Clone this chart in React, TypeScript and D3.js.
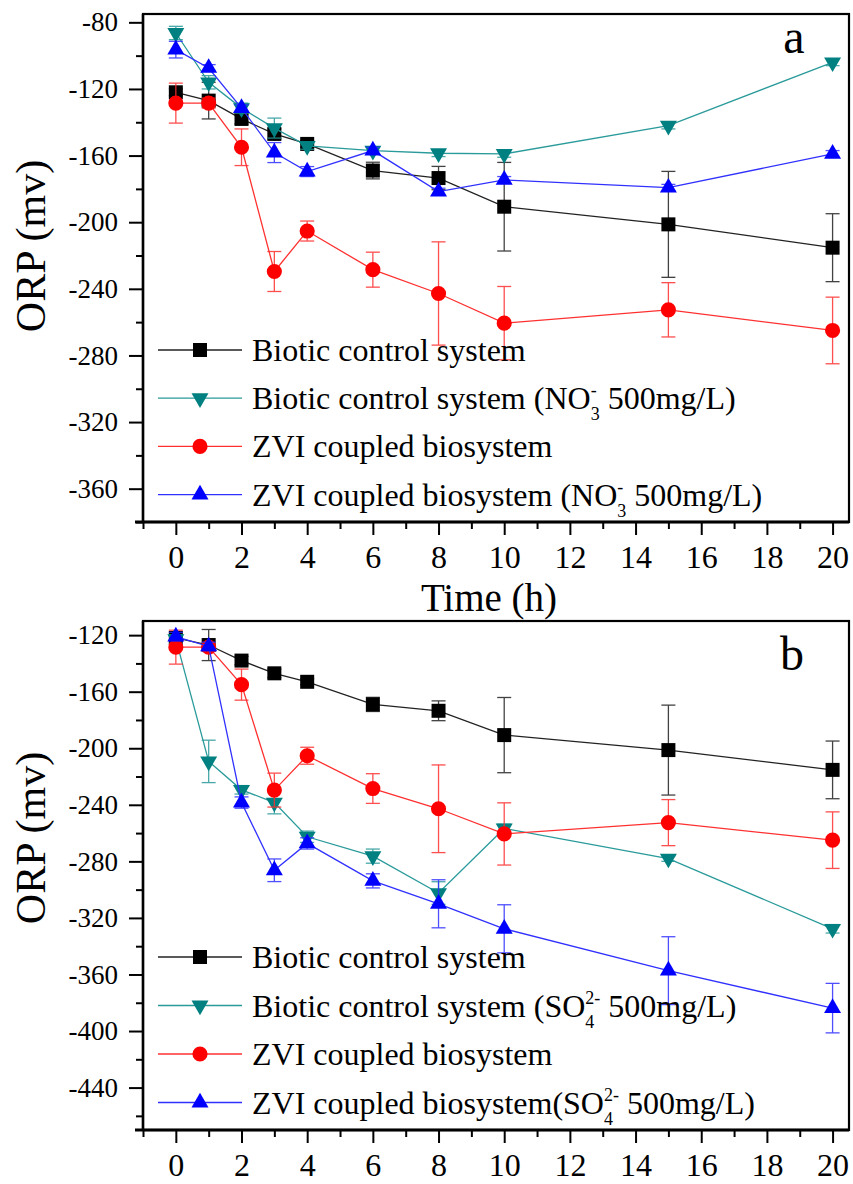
import React, { useRef, useEffect } from "react";
import * as d3 from "d3";

// sampling times (h)
const times = [0, 1, 2, 3, 4, 6, 8, 10, 15, 20];

// ORP (mV)
const bioticCtrl = [-122, -127, -138, -147, -153, -169, -173.5, -190.7, -201.3, -215.3];
const bioticCtrlErr = [2, 11, 3, 3, 2, 5, 7, 26.6, 31.8, 20.4];
const zviCoupled = [-128.5, -128.5, -155, -229.6, -205.3, -228.5, -242.8, -260.6, -252.6, -265];
const zviCoupledErr = [12, 3, 11, 12, 6, 10.5, 31, 22, 16.3, 20];
const bioticNO3 = [-86.4, -116, -131.5, -143.5, -154.2, -157, -158.6, -159, -142, -104];
const bioticNO3Err = [4, 4, 3, 6, 2, 2, 2, 2, 2, 2];
const zviNO3 = [-96.4, -107.4, -131.5, -158.2, -169.6, -157, -181.6, -174.6, -179.3, -159];
const zviNO3Err = [5, 2, 2, 6, 3, 2, 2, 2, 2, 2];
const bioticSO4 = [-122.8, -209.3, -229.4, -238.4, -262.6, -276.3, -302.4, -256.7, -278, -327.7];
const bioticSO4Err = [3, 15, 3, 8, 4, 5, 8, 3, 2, 3];
const zviSO4 = [-121, -128, -238.4, -286.3, -267.3, -293.8, -310, -327.7, -357.3, -383.8];
const zviSO4Err = [3, 3, 4, 8, 4, 5, 17, 17, 24, 17.5];

// tick values
const xMajorTicks = [0, 2, 4, 6, 8, 10, 12, 14, 16, 18, 20];
const xMinorTicks = [-1, 1, 3, 5, 7, 9, 11, 13, 15, 17, 19];
const yMajorA = [-80, -120, -160, -200, -240, -280, -320, -360];
const yMinorA = [-100, -140, -180, -220, -260, -300, -340, -380];
const yMajorB = [-120, -160, -200, -240, -280, -320, -360, -400, -440];
const yMinorB = [-140, -180, -220, -260, -300, -340, -380, -420, -460];

const FONT = "'Liberation Serif', 'Times New Roman', Times, serif";

const styles = {
  black: { line: "#222", fill: "#000", shape: "square" },
  teal: { line: "#2a9a9a", fill: "#008080", shape: "down" },
  red: { line: "#ff3030", fill: "#ff0000", shape: "circle" },
  blue: { line: "#3030ff", fill: "#0000ff", shape: "up" },
};

const xScale = d3.scaleLinear().domain([-1, 20.5]).range([143, 849]);

function markerPath(shape) {
  if (shape === "square") return d3.symbol(d3.symbolSquare, 196)();
  if (shape === "circle") return d3.symbol(d3.symbolCircle, 180)();
  return d3.symbol(d3.symbolTriangle, 125)();
}

function Marker({ x, y, st }) {
  const rot = st.shape === "down" ? " rotate(180)" : "";
  return <path d={markerPath(st.shape)} transform={`translate(${x},${y})${rot}`} fill={st.fill} />;
}

function Series({ y, values, errs, st }) {
  const pts = times.map((t, i) => [xScale(t), y(values[i])]);
  const lineGen = d3.line();
  return (
    <g>
      <path d={lineGen(pts)} fill="none" stroke={st.line} strokeWidth={1.3} />
      {times.map((t, i) => {
        const cx = xScale(t);
        const y1 = y(values[i] + errs[i]);
        const y2 = y(values[i] - errs[i]);
        return (
          <g key={i} stroke={st.line} strokeWidth={1.3} opacity={0.85}>
            <line x1={cx} x2={cx} y1={y1} y2={y2} />
            <line x1={cx - 7} x2={cx + 7} y1={y1} y2={y1} />
            <line x1={cx - 7} x2={cx + 7} y1={y2} y2={y2} />
          </g>
        );
      })}
      {pts.map((p, i) => (
        <Marker key={i} x={p[0]} y={p[1]} st={st} />
      ))}
    </g>
  );
}

function LegendText({ label, ion }) {
  if (!ion) return <>{label}</>;
  if (ion === "NO3")
    return (
      <>
        {label}
        <tspan dy={-13} fontSize={18}>-</tspan>
        <tspan dx={-6} dy={24} fontSize={18}>3</tspan>
        <tspan dy={-11}> 500mg/L)</tspan>
      </>
    );
  return (
    <>
      {label}
      <tspan dy={-13} fontSize={18}>2-</tspan>
      <tspan dx={-15} dy={24} fontSize={18}>4</tspan>
      <tspan dx={6} dy={-11}> 500mg/L)</tspan>
    </>
  );
}

function Panel({ yDomain, top, bottom, yMajor, yMinor, letter, letterPos, legendTop, legendStep, legend, series, yLabelCenter, showTimeLabel }) {
  const axRef = useRef(null);
  const y = d3.scaleLinear().domain(yDomain).range([bottom, top]);

  useEffect(() => {
    const g = d3.select(axRef.current);
    const fmt = (d) => String(d);
    g.select(".x-major")
      .attr("transform", `translate(0,${bottom})`)
      .call(d3.axisBottom(xScale).tickValues(xMajorTicks).tickSize(13).tickPadding(10).tickFormat(fmt));
    g.select(".x-minor")
      .attr("transform", `translate(0,${bottom})`)
      .call(d3.axisBottom(xScale).tickValues(xMinorTicks).tickSize(7).tickFormat(() => ""));
    g.select(".y-major")
      .attr("transform", `translate(143,0)`)
      .call(d3.axisLeft(y).tickValues(yMajor).tickSize(14).tickPadding(11).tickFormat(fmt));
    g.select(".y-minor")
      .attr("transform", `translate(143,0)`)
      .call(d3.axisLeft(y).tickValues(yMinor).tickSize(7).tickFormat(() => ""));
    g.selectAll(".domain").remove();
    g.selectAll(".tick line").attr("stroke", "#000").attr("stroke-width", 2);
    g.selectAll(".tick text").attr("fill", "#000").style("font-family", FONT);
    g.selectAll(".x-major .tick text").style("font-size", "32px");
    g.selectAll(".y-major .tick text").style("font-size", "27px");
  }, []);

  return (
    <g>
      <g ref={axRef}>
        <g className="x-major" />
        <g className="x-minor" />
        <g className="y-major" />
        <g className="y-minor" />
      </g>
      {series.map((s, i) => (
        <Series key={i} y={y} values={s.values} errs={s.errs} st={s.st} />
      ))}
      <rect x={143} y={top} width={849 - 143} height={bottom - top} fill="none" stroke="#000" strokeWidth={2.2} />
      <line x1={135} x2={849} y1={bottom} y2={bottom} stroke="#000" strokeWidth={3} />
      <line x1={143} x2={143} y1={top} y2={bottom} stroke="#000" strokeWidth={2.5} />
      <text x={letterPos[0]} y={letterPos[1]} style={{ fontFamily: FONT, fontSize: 48 }} textAnchor="middle">{letter}</text>
      {legend.map((l, i) => {
        const cy = legendTop + i * legendStep;
        return (
          <g key={i}>
            <line x1={158} x2={242} y1={cy} y2={cy} stroke={l.st.line} strokeWidth={1.3} />
            <Marker x={200} y={cy} st={l.st} />
            <text x={252} y={cy + 11} style={{ fontFamily: FONT, fontSize: 32 }} fill="#000">
              <LegendText label={l.label} ion={l.ion} />
            </text>
          </g>
        );
      })}
      <text
        transform={`translate(45,${yLabelCenter}) rotate(-90)`}
        textAnchor="middle"
        style={{ fontFamily: FONT, fontSize: 42 }}
      >
        ORP (mv)
      </text>
      {showTimeLabel && (
        <text x={489} y={611} textAnchor="middle" style={{ fontFamily: FONT, fontSize: 39 }}>Time (h)</text>
      )}
    </g>
  );
}

export default function App() {
  const seriesA = [
    { values: bioticCtrl, errs: bioticCtrlErr, st: styles.black },
    { values: bioticNO3, errs: bioticNO3Err, st: styles.teal },
    { values: zviCoupled, errs: zviCoupledErr, st: styles.red },
    { values: zviNO3, errs: zviNO3Err, st: styles.blue },
  ];
  const seriesB = [
    { values: bioticCtrl, errs: bioticCtrlErr, st: styles.black },
    { values: bioticSO4, errs: bioticSO4Err, st: styles.teal },
    { values: zviCoupled, errs: zviCoupledErr, st: styles.red },
    { values: zviSO4, errs: zviSO4Err, st: styles.blue },
  ];
  const legendA = [
    { label: "Biotic control system", st: styles.black },
    { label: "Biotic control system (NO", ion: "NO3", st: styles.teal },
    { label: "ZVI coupled biosystem", st: styles.red },
    { label: "ZVI coupled biosystem (NO", ion: "NO3", st: styles.blue },
  ];
  const legendB = [
    { label: "Biotic control system", st: styles.black },
    { label: "Biotic control system (SO", ion: "SO4", st: styles.teal },
    { label: "ZVI coupled biosystem", st: styles.red },
    { label: "ZVI coupled biosystem(SO", ion: "SO4", st: styles.blue },
  ];
  return (
    <svg width={853} height={1184} style={{ position: "absolute", left: 0, top: 0, background: "#fff" }}>
      <rect width={853} height={1184} fill="#fff" />
      <Panel
        yDomain={[-380, -75]}
        top={14}
        bottom={522}
        yMajor={yMajorA}
        yMinor={yMinorA}
        letter="a"
        letterPos={[794, 53]}
        legendTop={350}
        legendStep={48.2}
        legend={legendA}
        series={seriesA}
        yLabelCenter={246}
        showTimeLabel
      />
      <Panel
        yDomain={[-470, -110]}
        top={621}
        bottom={1130}
        yMajor={yMajorB}
        yMinor={yMinorB}
        letter="b"
        letterPos={[792, 670]}
        legendTop={957}
        legendStep={48.5}
        legend={legendB}
        series={seriesB}
        yLabelCenter={838}
        showTimeLabel={false}
      />
    </svg>
  );
}
